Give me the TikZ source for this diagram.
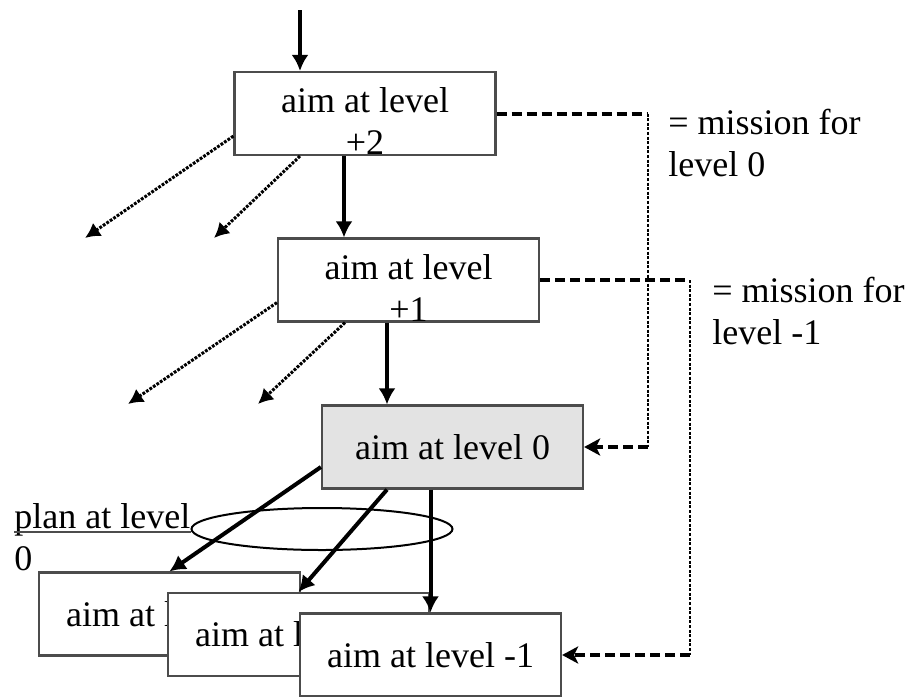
\documentclass[tikz,border=0pt]{standalone}
\usepackage{fontspec}
\setmainfont{Liberation Serif}
\usetikzlibrary{arrows.meta,positioning,shapes.geometric,calc}

\begin{document}
\begin{tikzpicture}[
  x=0.5pt, y=-0.5pt,
  every node/.style={font=\fontsize{18}{21}\selectfont},
  aim/.style={draw=black!70, line width=1.1pt, fill=white, minimum width=130.5pt, minimum height=41.5pt, inner sep=0pt},
  focus/.style={aim, fill=black!11},
  down/.style={-{Latex[length=8pt,width=8.5pt]}, line width=2pt},
  side/.style={-{Latex[length=7.5pt,width=8pt]}, line width=1.5pt, dash pattern=on 1.4pt off 0.7pt},
  mission/.style={line width=2pt, dash pattern=on 5pt off 2.5pt},
  drop/.style={line width=0.8pt, dash pattern=on 1.5pt off 0.8pt},
  note/.style={align=left, inner sep=0pt, anchor=north west}
]
\useasboundingbox (0,0) rectangle (909,696);

\node[aim, label={[align=center, yshift=-4pt]center:aim at level\\+2}] (AimTwo) at (365,113.5) {};
\node[aim, label={[align=center, yshift=-4pt]center:aim at level\\+1}] (AimOne) at (408.5,280) {};
\node[focus] (AimZero) at (452.5,447) {aim at level 0};
\node[aim] (SubA) at (169.5,614) {aim at level -1};
\node[aim] (SubB) at (298.5,634.5) {aim at level -1};
\node[aim] (SubC) at (430.5,655) {aim at level -1};

\node[note] (MissionZero) at (668,108.5) {= mission for\\level 0};
\node[note] (MissionOne) at (712,276.5) {= mission for\\level -1};
\node[note] (PlanLabel) at (14,503.5) {plan at level\\0};
\node[draw, line width=1pt, ellipse, minimum width=130.5pt, minimum height=21pt, inner sep=0pt] (Plan) at (322,529) {};

\coordinate (Top) at (300,10);
\draw[down] (Top) -- (Top |- AimTwo.north);
\coordinate (TwoOut) at ($(AimTwo.south)+(-21,0)$);
\draw[down] (TwoOut) -- (TwoOut |- AimOne.north);
\coordinate (OneOut) at ($(AimOne.south)+(-21.5,0)$);
\draw[down] (OneOut) -- (OneOut |- AimZero.north);

\coordinate (TwoLeftA) at (85,238);
\coordinate (TwoLeftB) at (214,238);
\coordinate (OneLeftA) at (128,404);
\coordinate (OneLeftB) at (258,404);
\draw[side] ($(AimTwo.south west)+(0,-20)$) -- (TwoLeftA);
\draw[side] ($(AimTwo.south)+(-65,0)$) -- (TwoLeftB);
\draw[side] ($(AimOne.south west)+(0,-20)$) -- (OneLeftA);
\draw[side] ($(AimOne.south)+(-63.5,0)$) -- (OneLeftB);

\draw[down] ($(AimZero.west)+(0,20)$) -- (SubA.north);
\draw[down] ($(AimZero.south)+(-65.5,0)$) -- (SubB.north);
\draw[down] (SubC.north |- AimZero.south) -- (SubC.north);

\coordinate (TurnA) at (648,113.5);
\coordinate (TurnB) at (690,280);
\draw[mission] (AimTwo.east) -- (TurnA);
\draw[drop] (TurnA) -- (TurnA |- AimZero.east);
\draw[mission, -{Stealth[length=8pt,width=8.5pt,inset=2pt]}] (TurnA |- AimZero.east) -- (AimZero.east);
\draw[mission] (AimOne.east) -- (TurnB);
\draw[drop] (TurnB) -- (TurnB |- SubC.east);
\draw[mission, -{Stealth[length=8pt,width=8.5pt,inset=2pt]}] (TurnB |- SubC.east) -- (SubC.east);

\coordinate (Under) at ($(PlanLabel.north west)+(0,28.5)$);
\draw[line width=1pt, black!70] (Under) -- (Under -| Plan.west);

\end{tikzpicture}
\end{document}
